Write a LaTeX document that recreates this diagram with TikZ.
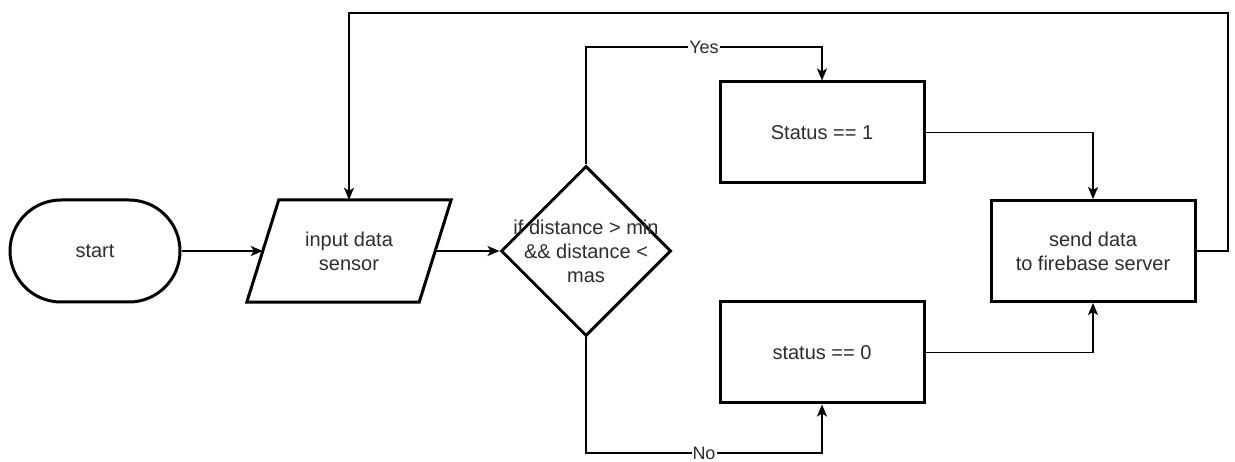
\documentclass[tikz,border=0pt]{standalone}
\usepackage{fontspec}
\setmainfont{Liberation Sans}
\usetikzlibrary{arrows.meta,shapes.geometric,shapes.misc,calc}
\definecolor{txt}{RGB}{45,45,45}
\tikzset{
  shapeline/.style={draw=black,line width=3pt},
  box/.style={shapeline,rectangle,minimum width=204pt,minimum height=101pt,inner sep=0pt,align=center,text=txt,font=\fontsize{20}{24}\selectfont},
  conn/.style={draw=black,line width=1.6pt,-{Stealth[length=12pt,width=10pt,inset=3pt]}},
  lbl/.style={fill=white,inner sep=1pt,text=txt,font=\fontsize{18}{20}\selectfont},
}
\begin{document}
\begin{tikzpicture}[x=1pt,y=-1pt]
\useasboundingbox (0,0) rectangle (1235,462);
% nodes
\node[shapeline,rounded rectangle,minimum width=170pt,minimum height=102pt,inner sep=0pt,text=txt,font=\fontsize{20}{24}\selectfont] (start) at (95,251) {start};
\node[rectangle,minimum width=172pt,minimum height=102pt,inner sep=0pt,align=center,text=txt,font=\fontsize{20}{24}\selectfont] (inp) at (349,251) {input data\\sensor};
\draw[shapeline,line join=miter] ([xshift=16pt]inp.north west) -- ([xshift=16pt]inp.north east) -- ([xshift=-16pt]inp.south east) -- ([xshift=-16pt]inp.south west) -- cycle;
\node[shapeline,diamond,minimum width=170pt,minimum height=170pt,inner sep=0pt,
  label={[align=center,text=txt,font=\fontsize{20}{24}\selectfont]center:if distance > min\\\&\& distance <\\mas}] (dec) at (586,251) {};
\node[box] (s1) at (822,132.5) {Status == 1};
\node[box] (s0) at (822,352.5) {status == 0};
\node[box] (send) at (1093,251) {send data\\to firebase server};
% coordinates
\coordinate (yesA) at (586,47);
\coordinate (yesB) at (822,47);
\coordinate (noA) at (586,453);
\coordinate (noB) at (822,453);
\coordinate (loopR) at (1228,13);
\coordinate (loopL) at (349,13);
% connectors
\draw[conn] (start.east) -- (inp.west);
\draw[conn] (inp.east) -- (dec.west);
\draw[conn] (dec.north) -- (yesA) -- node[lbl]{Yes} (yesB) -- (s1.north);
\draw[conn] (dec.south) -- (noA) -- node[lbl]{No} (noB) -- (s0.south);
\draw[conn] (s1.east) -| (send.north);
\draw[conn] (s0.east) -| (send.south);
\draw[conn] (send.east) -| (loopR) -- (loopL) -- (inp.north);
\end{tikzpicture}
\end{document}
